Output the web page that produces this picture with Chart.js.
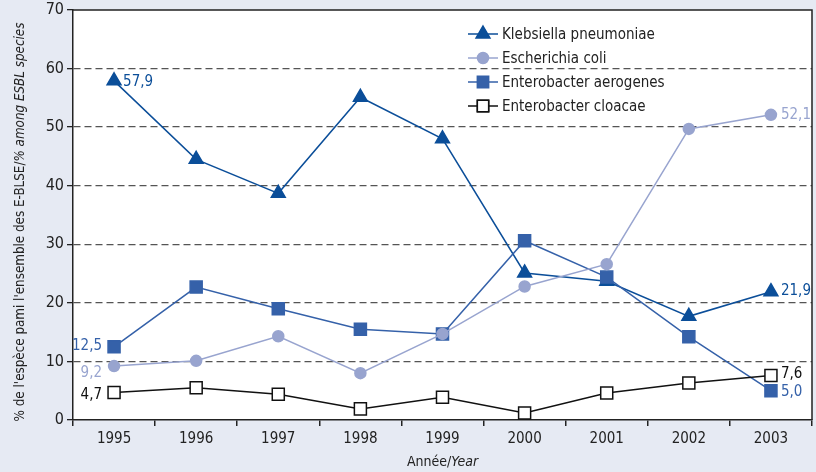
<!DOCTYPE html>
<html><head><meta charset="utf-8">
<script src="https://cdn.jsdelivr.net/npm/chart.js@4/dist/chart.umd.min.js"></script>
<style>html,body{margin:0;padding:0;background:#e6eaf3;overflow:hidden}#c{display:block}</style>
</head><body>
<div style="width:816px;height:472px"><canvas id="c"></canvas></div>
<script>
const years = ['1995','1996','1997','1998','1999','2000','2001','2002','2003'];
const klebsiella = [57.9, 44.5, 38.7, 55.1, 48.0, 25.1, 23.7, 17.7, 21.9];
const ecoli = [9.2, 10.1, 14.3, 8.0, 14.7, 22.8, 26.6, 49.7, 52.1];
const aerogenes = [12.5, 22.7, 19.0, 15.5, 14.7, 30.6, 24.4, 14.2, 5.0];
const cloacae = [4.7, 5.5, 4.4, 1.9, 3.9, 1.2, 4.6, 6.3, 7.6];
const seriesNames = ['Klebsiella pneumoniae','Escherichia coli','Enterobacter aerogenes','Enterobacter cloacae'];
const yTicks = [0,10,20,30,40,50,60,70];

const FONT = "'Liberation Sans Narrow','DejaVu Sans Condensed','Noto Sans',sans-serif";
const C_K = '#0b4e99', C_E = '#98a4cf', C_A = '#3561a9', C_C = '#111111';

const fmt = v => v.toFixed(1).replace('.', ',');

// let the plot area fill the frame exactly (no auto padding for point overflow)
Chart.controllers.line.prototype.getMaxOverflow = function () { return 0; };

const decor = {
  id: 'decor',
  beforeDraw(chart) {
    const {ctx, chartArea: a} = chart;
    ctx.save();
    ctx.fillStyle = '#e6eaf3';
    ctx.fillRect(0, 0, chart.width, chart.height);
    ctx.fillStyle = '#ffffff';
    ctx.fillRect(a.left, a.top, a.right - a.left, a.bottom - a.top);
    ctx.restore();
  },
  afterDraw(chart) {
    const {ctx, chartArea: a, scales} = chart;
    const x = scales.x, y = scales.y;
    ctx.save();
    ctx.strokeStyle = '#222';
    ctx.lineWidth = 1.5;
    ctx.beginPath();
    ctx.moveTo(a.left, a.top); ctx.lineTo(a.right, a.top); ctx.lineTo(a.right, a.bottom);
    ctx.stroke();
    ctx.fillStyle = '#222';
    ctx.textBaseline = 'alphabetic';
    const t1 = 'Année/', t2 = 'Year';
    ctx.font = '14px ' + FONT;
    const w1 = ctx.measureText(t1).width;
    ctx.font = 'italic 14px ' + FONT;
    const w2 = ctx.measureText(t2).width;
    let sx = (a.left + a.right) / 2 - (w1 + w2) / 2;
    ctx.font = '14px ' + FONT; ctx.fillText(t1, sx, 466);
    ctx.font = 'italic 14px ' + FONT; ctx.fillText(t2, sx + w1, 466);
    const y1 = "% de l'espèce pami l'ensemble des E-BLSE/", y2 = '% among ESBL species';
    const fs = 13.3;
    ctx.font = fs + 'px ' + FONT;
    const v1 = ctx.measureText(y1).width;
    ctx.font = 'italic ' + fs + 'px ' + FONT;
    const v2 = ctx.measureText(y2).width;
    ctx.translate(24, 222);
    ctx.rotate(-Math.PI / 2);
    const st = -(v1 + v2) / 2;
    ctx.font = fs + 'px ' + FONT; ctx.fillText(y1, st, 0);
    ctx.font = 'italic ' + fs + 'px ' + FONT; ctx.fillText(y2, st + v1, 0);
    ctx.setTransform(1,0,0,1,0,0);
    ctx.font = '15px ' + FONT;
    ctx.textBaseline = 'middle';
    const lab = (arr, i, color, dx, dy, align) => {
      ctx.fillStyle = color; ctx.textAlign = align;
      ctx.fillText(fmt(arr[i]), x.getPixelForValue(i) + dx, y.getPixelForValue(arr[i]) + dy);
    };
    lab(klebsiella, 0, C_K, 9, 1, 'left');
    lab(aerogenes, 0, C_A, -12, -1, 'right');
    lab(ecoli, 0, C_E, -12, 7, 'right');
    lab(cloacae, 0, C_C, -12, 3, 'right');
    lab(ecoli, 8, C_E, 10, 0, 'left');
    lab(klebsiella, 8, C_K, 10, -1, 'left');
    lab(cloacae, 8, C_C, 10, -1, 'left');
    lab(aerogenes, 8, C_A, 10, 1, 'left');
    const items = [
      {c: C_K, s: 'triangle', r: 8, fill: C_K},
      {c: C_E, s: 'circle', r: 5.5, fill: C_E},
      {c: C_A, s: 'rect', r: 8, fill: C_A},
      {c: C_C, s: 'rect', r: 8, fill: '#fff'}
    ];
    ctx.textAlign = 'left';
    items.forEach((it, k) => {
      const ly = 34 + k * 24;
      ctx.strokeStyle = it.c; ctx.lineWidth = 1.5;
      ctx.beginPath(); ctx.moveTo(468, ly); ctx.lineTo(498, ly); ctx.stroke();
      ctx.fillStyle = it.fill;
      Chart.helpers.drawPoint(ctx, {pointStyle: it.s, radius: it.r, borderWidth: 1.5, rotation: 0}, 483, ly);
      ctx.fill();
      if (it.fill === '#fff') ctx.stroke();
      ctx.fillStyle = '#222';
      ctx.font = '15px ' + FONT;
      ctx.fillText(seriesNames[k], 502, ly + 1);
    });
    ctx.restore();
  }
};

const mk = (label, data, color, style, r, fill) => ({
  label, data,
  borderColor: color, backgroundColor: fill,
  pointBackgroundColor: fill, pointBorderColor: color,
  pointStyle: style, pointRadius: r, pointHoverRadius: r,
  pointBorderWidth: 1.5, borderWidth: 1.5, tension: 0, clip: false
});

new Chart(document.getElementById('c'), {
  type: 'line',
  data: {
    labels: years,
    datasets: [
      mk(seriesNames[3], cloacae, C_C, 'rect', 8.5, '#ffffff'),
      mk(seriesNames[1], ecoli, C_E, 'circle', 5.5, C_E),
      mk(seriesNames[2], aerogenes, C_A, 'rect', 8.5, C_A),
      mk(seriesNames[0], klebsiella, C_K, 'triangle', 8, C_K)
    ]
  },
  options: {
    responsive: true, maintainAspectRatio: false, animation: false,
    layout: {padding: {top: 10, right: 4, left: 0, bottom: 0}},
    plugins: {legend: {display: false}, tooltip: {enabled: false}},
    scales: {
      x: {
        offset: true,
        grid: {offset: true, drawOnChartArea: false, drawTicks: true, tickLength: 6, tickColor: '#222', lineWidth: 1.5},
        border: {color: '#222', width: 1.5},
        ticks: {color: '#222', font: {family: FONT, size: 15}, padding: 4, maxRotation: 0},
        afterFit(s) { s.height = 52; s.paddingLeft = 0; s.paddingRight = 0; }
      },
      y: {
        min: 0, max: 70,
        afterBuildTicks(s) { s.ticks = yTicks.map(v => ({value: v})); },
        grid: {
          color: c => (c.tick && (c.tick.value === 0 || c.tick.value === 70)) ? 'rgba(0,0,0,0)' : '#555',
          lineWidth: 1.3, tickColor: '#222', tickLength: 6, drawTicks: true,
        },
        border: {color: '#222', width: 1.5, dash: [7,4], dashOffset: 0},
        ticks: {color: '#222', font: {family: FONT, size: 16}, padding: 3},
        afterFit(s) { s.width = 73; s.paddingTop = 0; s.paddingBottom = 0; }
      }
    }
  },
  plugins: [decor]
});
</script>
</body></html>
